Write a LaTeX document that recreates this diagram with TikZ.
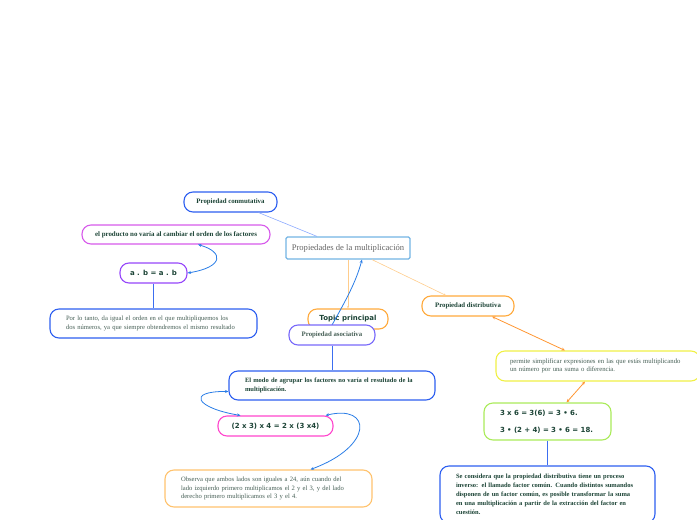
\documentclass[tikz,border=0pt]{standalone}
\usepackage{fontspec}
\setmainfont{Liberation Serif}
\newfontfamily\sansfont{DejaVu Sans}
\usepackage{tikz}
\usetikzlibrary{arrows.meta}
\definecolor{blue1}{RGB}{45,95,240}
\definecolor{blue2}{RGB}{42,125,230}
\definecolor{blue3}{RGB}{60,110,240}
\definecolor{bluel}{RGB}{140,170,255}
\definecolor{sky1}{RGB}{115,180,228}
\definecolor{violet1}{RGB}{215,90,235}
\definecolor{purple1}{RGB}{150,70,250}
\definecolor{lilac1}{RGB}{120,105,250}
\definecolor{orange1}{RGB}{255,170,60}
\definecolor{orange2}{RGB}{255,150,50}
\definecolor{orangel}{RGB}{255,205,140}
\definecolor{sand1}{RGB}{255,195,110}
\definecolor{pink1}{RGB}{255,70,205}
\definecolor{yellow1}{RGB}{240,240,70}
\definecolor{lime1}{RGB}{170,235,90}
\definecolor{txtgreen}{RGB}{28,68,54}
\definecolor{txtgray}{RGB}{70,95,85}
\def\bsmall{\fontsize{6.5}{9}\selectfont\bfseries\color{txtgreen}}
\def\rsmall{\fontsize{6.6}{8.8}\selectfont\color{txtgray}}
\def\btitle{\fontsize{6.8}{8}\selectfont\bfseries\color{txtgreen}}
\def\bsans{\sansfont\fontsize{7}{8}\selectfont\bfseries\color{txtgreen}}

\begin{document}
\begin{tikzpicture}[x=1pt,y=-1pt,
    pill/.style={draw, fill=white, rounded corners=9pt, line width=1.1pt, inner sep=0pt, align=center},
    textpill/.style={pill, align=left, inner xsep=16pt, inner ysep=0pt},
    central/.style={draw=sky1, fill=white, rounded corners=1.5pt, line width=1.2pt, minimum width=124pt, minimum height=22pt, font=\fontsize{8.6}{9}\selectfont\color{black!60}},
    sigarrow/.style={-{Stealth[length=3.5pt,width=3pt]}, line width=0.8pt, color=blue2},
    dblarrow/.style={{Stealth[length=3.5pt,width=3pt]}-{Stealth[length=3.5pt,width=3pt]}, line width=0.8pt},
    branch/.style={line width=0.6pt, -{Stealth[length=2.5pt,width=2pt]}},
    stem/.style={line width=1pt, color=blue3}
]
  \useasboundingbox (0,0) rectangle (697,520);

  % connectors from the main topic
  \node[central, name=main] at(348,248) {Propiedades de la multiplicación};
  \node[pill, draw=blue1, minimum width=93pt, minimum height=20pt, font=\btitle, name=conm] at(230.5,202) {Propiedad conmutativa};
  \node[pill, draw=orange1, minimum width=80pt, minimum height=20pt, font=\sansfont\fontsize{7}{8}\selectfont\bfseries\color{txtgreen}, name=topic] at(348,319) {Topic principal};
  \node[pill, draw=orange1, minimum width=92pt, minimum height=20pt, font=\btitle, name=distr] at(468,306) {Propiedad distributiva};

  \draw[line width=0.6pt, bluel] ([xshift=-31pt]main.north) -- ([xshift=28pt]conm.south);
  \draw[branch, orangel] (main.south) -- (topic.north);
  \draw[branch, orangel] ([xshift=24pt]main.south) -- ([xshift=-22pt]distr.north);
  \draw[sigarrow] (332,325) .. controls (346,300) and (356,282) .. ([xshift=14pt]main.south);

  \node[pill, draw=lilac1, minimum width=86pt, minimum height=20pt, font=\fontsize{6.8}{8}\selectfont\bfseries\color{txtgray}, name=asoc] at(332,335) {Propiedad asociativa};

  % conmutativa
  \node[pill, draw=violet1, minimum width=188pt, minimum height=19pt, font=\fontsize{6.9}{8}\selectfont\bfseries\color{txtgreen}, name=prod] at(176,234.5) {el producto no varía al cambiar el orden de los factores};
  \node[pill, draw=purple1, minimum width=67pt, minimum height=20pt, font=\bsans, name=ab] at(153.5,273) {a . b = a . b};
  \node[textpill, draw=blue1, text width=175pt, minimum height=29pt, font=\rsmall, name=portanto] at(153.5,323.5) {Por lo tanto, da igual el orden en el que multipliquemos los\\dos números, ya que siempre obtendremos el mismo resultado};

  \draw[dblarrow, blue2] ([xshift=22pt]prod.south) .. controls (224,252) and (224,267) .. (ab.east);
  \draw[stem] (ab.south) -- (portanto.north);

  % asociativa
  \node[textpill, draw=blue1, text width=174pt, minimum height=29pt, font=\bsmall, name=modo] at(332,385.5) {El modo de agrupar los factores no varía el resultado de la\\multiplicación.};
  \node[pill, draw=pink1, minimum width=115pt, minimum height=20pt, font=\bsans, name=eje] at(275.5,426) {(2 x 3) x 4 = 2 x (3 x4)};
  \node[textpill, draw=sand1, text width=175pt, minimum height=37pt, font=\rsmall, name=obs] at(268.5,488.5) {Observa que ambos lados son iguales a 24, aún cuando del\\lado izquierdo primero multiplicamos el 2 y el 3, y del lado\\derecho primero multiplicamos el 3 y el 4.};

  \draw[stem] (asoc.south) -- (modo.north);
  \draw[dblarrow, blue2] ([yshift=-6pt]modo.west) .. controls (186,391) and (196,408) .. ([xshift=-35pt]eje.north);
  \draw[dblarrow, blue2] ([xshift=50pt]eje.north) .. controls (372,404) and (374,446) .. ([xshift=42pt]obs.north);

  % distributiva
  \node[textpill, draw=yellow1, inner xsep=14pt, text width=176pt, minimum height=30pt, font=\fontsize{6.7}{8.4}\selectfont\color{txtgray}, name=permite] at(598,366) {permite simplificar expresiones en las que estás multiplicando\\un número por una suma o diferencia.};
  \node[textpill, draw=lime1, text width=95pt, minimum height=37pt, font=\sansfont\fontsize{7}{17}\selectfont\bfseries\color{txtgreen}, name=tres] at(547.5,421.5) {3 x 6 = 3(6) = 3 • 6.\\3 • (2 + 4) = 3 • 6 = 18.};
  \node[textpill, draw=blue1, text width=183pt, minimum height=57pt, font=\bsmall, name=factor] at(547.5,494.5) {Se considera que la propiedad distributiva tiene un proceso\\inverso: el llamado factor común. Cuando distintos sumandos\\disponen de un factor común, es posible transformar la suma\\en una multiplicación a partir de la extracción del factor en\\cuestión.};

  \draw[dblarrow, orange2] ([xshift=24pt]distr.south) -- ([xshift=-33pt]permite.north);
  \draw[dblarrow, orange2] ([xshift=-13pt]permite.south) -- ([xshift=19pt]tres.north);
  \draw[stem] (tres.south) -- (factor.north);

\end{tikzpicture}
\end{document}
